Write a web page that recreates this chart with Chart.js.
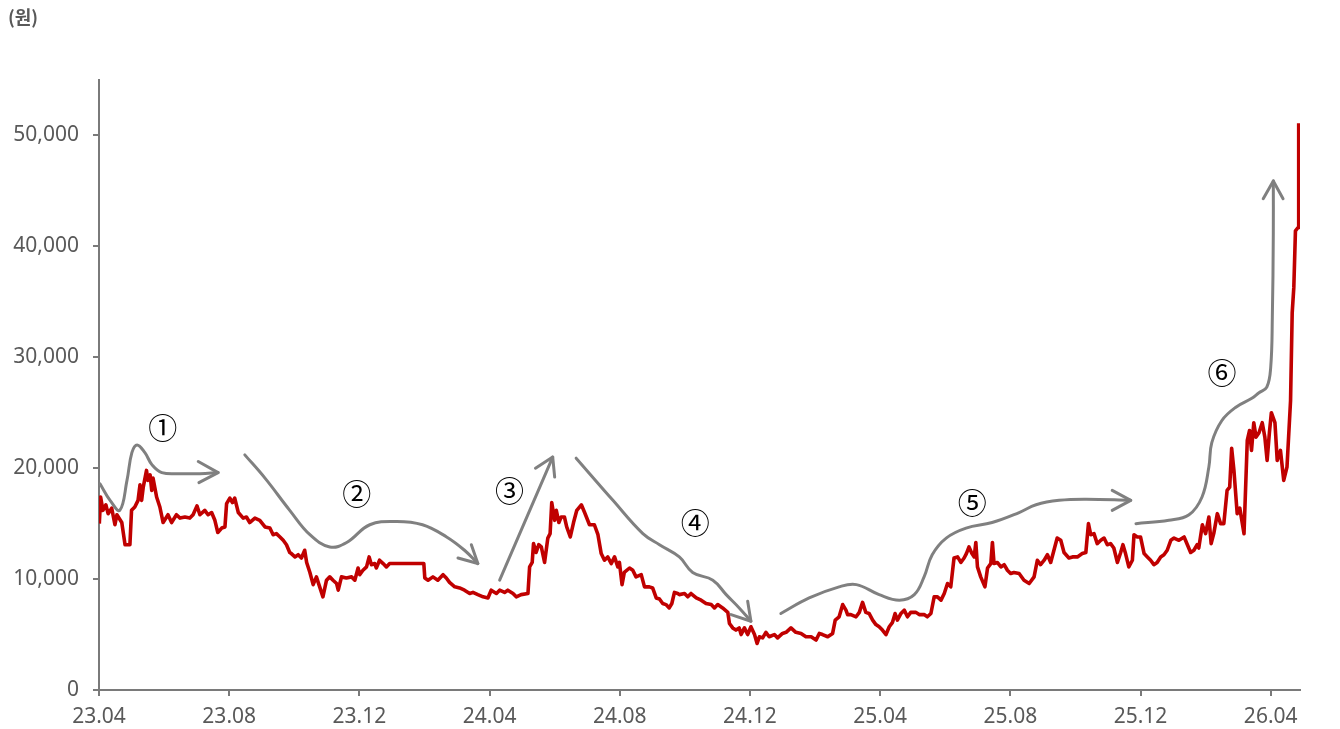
<!DOCTYPE html>
<html>
<head>
<meta charset="utf-8">
<script src="https://cdn.jsdelivr.net/npm/chart.js@4.4.1/dist/chart.umd.min.js"></script>
<style>
  html, body { margin: 0; padding: 0; background: #fff; }
  #wrap { width: 1340px; height: 729px; position: relative; }
</style>
</head>
<body>
<div id="wrap"><canvas id="grafico"></canvas></div>
<script>
// x = months since 2023.04, y = price (원)
const unitLabel = '(원)';
const tickMonths = [0, 4, 8, 12, 16, 20, 24, 28, 32, 36];
const tickLabels = ['23.04', '23.08', '23.12', '24.04', '24.08', '24.12', '25.04', '25.08', '25.12', '26.04'];
const yTicks = [0, 10000, 20000, 30000, 40000, 50000];

const price2023 = [[0.01,15000],[0.05,17400],[0.12,16200],[0.21,16700],[0.28,15900],[0.39,16400],[0.49,14900],[0.55,15800],[0.70,15100],[0.80,13100],[0.95,13100],[1.00,16200],[1.10,16500],[1.20,17100],[1.26,18500],[1.31,17100],[1.36,18300],[1.46,19800],[1.50,18900],[1.57,19400],[1.62,18000],[1.66,19100],[1.77,17400],[1.87,16500],[1.97,15100],[2.12,15800],[2.23,15100],[2.38,15800],[2.49,15500],[2.64,15600],[2.79,15500],[2.89,15800],[3.01,16600],[3.10,15800],[3.25,16200],[3.35,15800],[3.46,16000],[3.56,15300],[3.65,14200],[3.77,14600],[3.87,14700],[3.92,16800],[4.02,17300],[4.10,16900],[4.17,17300],[4.28,16000],[4.43,15500],[4.53,15600],[4.63,15100],[4.79,15500],[4.94,15300],[5.10,14700],[5.25,14600],[5.35,14000],[5.45,14100],[5.56,13800],[5.66,13500],[5.76,13100],[5.86,12400],[5.91,12300],[6.02,12000],[6.12,12200],[6.22,11900],[6.32,12600],[6.38,11500],[6.48,10600],[6.58,9500],[6.68,10200],[6.78,9300],[6.88,8400],[6.99,9900],[7.09,10200],[7.19,9900],[7.30,9600],[7.35,9000],[7.45,10200],[7.60,10100],[7.76,10200],[7.86,9900],[7.96,11000],[8.01,10400],[8.11,10800],[8.22,11100],[8.30,12000],[8.37,11300],[8.47,11400],[8.52,11000],[8.62,11700],[8.73,11400],[8.83,11100],[8.93,11400]];
const price2024 = [[9.44,11400],[9.98,11400],[10.01,10100],[10.11,9900],[10.26,10200],[10.41,9900],[10.57,10400],[10.67,10100],[10.77,9700],[10.93,9300],[11.08,9200],[11.23,9000],[11.39,8700],[11.49,8800],[11.64,8600],[11.80,8400],[11.95,8300],[12.05,9000],[12.21,8700],[12.31,9000],[12.46,8800],[12.56,9000],[12.72,8700],[12.82,8400],[12.97,8600],[13.18,8700],[13.23,11100],[13.31,11500],[13.35,13200],[13.43,12400],[13.51,13100],[13.59,12900],[13.69,11500],[13.79,13700],[13.86,14100],[13.91,16900],[14.00,15300],[14.05,16200],[14.13,15100],[14.20,15600],[14.30,15600],[14.37,14700],[14.48,13800],[14.58,15100],[14.68,16200],[14.82,16700],[14.92,16000],[15.07,14900],[15.22,14900],[15.33,14000],[15.43,12300],[15.53,11700],[15.63,12000],[15.74,11400],[15.84,12000],[15.94,11100],[15.99,11500],[16.07,9500],[16.14,10600],[16.30,11000],[16.40,10800],[16.50,10200],[16.66,10400],[16.76,9300],[16.91,9300],[17.01,9200],[17.12,8300],[17.22,8200],[17.32,7800],[17.42,7700],[17.52,7400],[17.60,7800],[17.68,8800],[17.78,8700],[17.83,8600],[17.99,8700],[18.09,8400],[18.19,8700],[18.35,8300],[18.50,8100],[18.65,7800],[18.81,7700],[18.91,7400],[19.01,7700],[19.16,7400],[19.32,7000],[19.37,6000],[19.47,5600],[19.57,5400],[19.67,5600],[19.73,5000],[19.83,5600],[19.93,5000],[20.03,5700],[20.14,5000],[20.22,4200],[20.29,4800],[20.39,4700],[20.49,5200],[20.59,4800],[20.75,5000],[20.85,4700]];
const price2025 = [[21.00,5100],[21.11,5200],[21.26,5600],[21.41,5200],[21.57,5100],[21.72,4800],[21.88,4800],[22.03,4500],[22.13,5100],[22.23,5000],[22.39,4800],[22.54,5100],[22.62,6300],[22.74,6600],[22.85,7700],[22.95,7200],[23.00,6800],[23.10,6800],[23.26,6600],[23.36,7000],[23.46,7900],[23.56,7000],[23.66,6900],[23.77,6300],[23.87,5900],[23.97,5700],[24.07,5400],[24.18,5000],[24.28,5700],[24.38,6100],[24.46,6900],[24.53,6300],[24.64,6900],[24.74,7200],[24.84,6600],[24.94,7000],[25.10,7000],[25.20,6800],[25.35,6800],[25.45,6600],[25.56,6900],[25.66,8400],[25.76,8400],[25.87,8100],[25.97,8700],[26.07,9600],[26.17,9300],[26.27,11900],[26.38,12000],[26.48,11500],[26.58,11900],[26.65,12300],[26.73,12900],[26.82,12300],[26.89,12000],[26.94,13300],[26.99,11100],[27.09,10200],[27.22,9300],[27.30,11000],[27.40,11400],[27.45,13300],[27.50,11400],[27.60,11500],[27.71,11100],[27.81,11300],[27.91,10800],[28.01,10500],[28.11,10600],[28.27,10500],[28.42,9900],[28.58,9600],[28.73,10200],[28.83,11700],[28.93,11300],[29.04,11700],[29.14,12200],[29.24,11500],[29.34,12600],[29.44,13700],[29.55,13500],[29.65,12400],[29.80,11900],[29.91,12000],[30.06,12000],[30.21,12300],[30.32,12400],[30.40,15000],[30.47,14000],[30.57,14100],[30.67,13200],[30.78,13500],[30.88,13700],[30.98,13100],[31.08,13200],[31.18,12800],[31.29,11500],[31.39,12400],[31.46,13100],[31.54,12300],[31.64,11100],[31.75,11700],[31.80,14000],[31.90,13800],[32.00,13800],[32.11,12300],[32.21,12000],[32.31,11700],[32.41,11300],[32.51,11500],[32.62,12000],[32.72,12200],[32.82,12600]];
const price2026 = [[32.93,13500],[33.03,13700],[33.18,13500],[33.34,13800],[33.44,13100],[33.54,12400],[33.64,12600],[33.74,13100],[33.79,12800],[33.90,14900],[34.00,14100],[34.10,15600],[34.17,13200],[34.25,14100],[34.36,15900],[34.46,15000],[34.56,15000],[34.66,18000],[34.74,18300],[34.80,21800],[34.87,19800],[34.97,15900],[35.05,16400],[35.18,14100],[35.28,22500],[35.35,23400],[35.41,21600],[35.48,24100],[35.55,22800],[35.64,23200],[35.74,24100],[35.82,22800],[35.89,20700],[35.96,23200],[36.02,25000],[36.13,24100],[36.20,20700],[36.30,21600],[36.40,18900],[36.50,20100],[36.61,26100],[36.66,34000],[36.71,36300],[36.76,41400],[36.84,41700],[36.86,51100]];

// 추세 화살표 (곡선 + 화살촉)
const trend1 = [[0.03,18600],[0.34,17100],[0.64,16200],[0.86,18900],[1.01,21400],[1.17,22100],[1.41,21400],[1.63,20300],[1.93,19600],[2.49,19500],[3.10,19500],[3.66,19600]];
const head1 = [[3.05,20600],[3.66,19600],[3.07,18700]];
const trend2 = [[4.48,21200],[5.10,19100],[5.86,16200],[6.48,14000],[7.09,12900],[7.61,13300],[8.32,14900],[9.15,15200],[9.94,14900],[10.68,13800],[11.23,12600],[11.64,11400]];
const head2 = [[11.03,11900],[11.64,11400],[11.44,13100]];
const trend3 = [[12.31,9900],[13.94,21000]];
const head3 = [[13.41,20000],[13.94,21000],[14.00,19200]];
const trend4 = [[14.66,20900],[15.79,17100],[16.71,14100],[17.22,13100],[17.83,12000],[18.24,10600],[18.86,9900],[19.27,8600],[19.67,7400],[20.03,6200]];
const head4 = [[19.42,6800],[20.03,6200],[19.93,8000]];
const trend5 = [[20.95,6900],[21.82,8300],[22.74,9300],[23.27,9500],[23.97,8600],[24.59,8100],[25.05,8600],[25.35,10200],[25.60,12200],[26.03,13700],[26.64,14600],[27.44,15100],[28.27,16000],[28.79,16700],[29.50,17100],[30.33,17200],[31.70,17100]];
const head5 = [[31.13,18000],[31.70,17100],[31.13,16200]];
const trend6 = [[31.86,15000],[32.87,15300],[33.49,15800],[33.89,17400],[34.10,20100],[34.19,22300],[34.50,24300],[34.93,25500],[35.42,26300],[35.64,26800],[35.88,27300],[36.00,29100],[36.05,33600],[36.08,41200],[36.08,45900]];
const head6 = [[35.77,44300],[36.08,45900],[36.38,44300]];

const stepLabels = [['①',1.96,23600],['②',7.92,17700],['③',12.61,17900],['④',18.32,15100],['⑤',26.83,16900],['⑥',34.50,28600]];

const toPts = arr => arr.map(p => ({ x: p[0], y: p[1] }));
const gris = '#808080';
const ejeColor = '#7a7a7a';
const textoColor = '#595959';

function lineaGris(arr, curva) {
    return {
        data: toPts(arr),
        borderColor: gris,
        borderWidth: 3,
        pointRadius: 0,
        tension: curva ? 0.4 : 0,
        borderCapStyle: 'round',
        borderJoinStyle: 'round',
        fill: false
    };
}

const etiquetas = {
    id: 'etiquetas',
    afterDatasetsDraw(chart) {
        const { ctx, scales: { x, y } } = chart;
        ctx.save();
        ctx.fillStyle = '#000';
        ctx.font = '29px "Noto Sans CJK KR"';
        ctx.textAlign = 'center';
        ctx.textBaseline = 'middle';
        stepLabels.forEach(([t, m, v]) => {
            ctx.fillText(t, x.getPixelForValue(m), y.getPixelForValue(v));
        });
        ctx.fillStyle = textoColor;
        ctx.font = 'bold 18px "Noto Sans CJK KR"';
        ctx.textAlign = 'left';
        ctx.textBaseline = 'top';
        ctx.fillText(unitLabel, 8, 8);
        ctx.restore();
    }
};

const ctx = document.getElementById('grafico').getContext('2d');
const grafico = new Chart(ctx, {
    type: 'line',
    data: {
        datasets: [
            lineaGris(trend1, true), lineaGris(head1, false),
            lineaGris(trend2, true), lineaGris(head2, false),
            lineaGris(trend3, false), lineaGris(head3, false),
            lineaGris(trend4, true), lineaGris(head4, false),
            lineaGris(trend5, true), lineaGris(head5, false),
            lineaGris(trend6, true), lineaGris(head6, false),
            {
                data: toPts([].concat(price2023, price2024, price2025, price2026)),
                borderColor: '#c00000',
                borderWidth: 3.6,
                pointRadius: 0,
                tension: 0,
                borderJoinStyle: 'round',
                fill: false
            }
        ]
    },
    options: {
        responsive: true,
        maintainAspectRatio: false,
        animation: false,
        devicePixelRatio: 1,
        layout: { padding: { top: 80, right: 40, left: 0, bottom: 0 } },
        plugins: {
            legend: { display: false },
            tooltip: { enabled: false }
        },
        scales: {
            x: {
                type: 'linear',
                min: 0,
                max: 36.9,
                afterFit: s => { s.height = 39; },
                afterBuildTicks: axis => { axis.ticks = tickMonths.map(v => ({ value: v })); },
                grid: { drawOnChartArea: false, drawTicks: true, tickLength: 6, color: ejeColor, lineWidth: 2 },
                border: { color: ejeColor, width: 2 },
                ticks: {
                    color: textoColor,
                    font: { family: '"Noto Sans"', size: 21 },
                    padding: 8,
                    maxRotation: 0,
                    autoSkip: false,
                    callback: v => tickLabels[tickMonths.indexOf(v)]
                }
            },
            y: {
                min: 0,
                max: 55000,
                afterFit: s => { s.width = 99; },
                afterBuildTicks: axis => { axis.ticks = yTicks.map(v => ({ value: v })); },
                grid: { drawOnChartArea: false, drawTicks: true, tickLength: 6, color: ejeColor, lineWidth: 2 },
                border: { color: ejeColor, width: 2 },
                ticks: {
                    color: textoColor,
                    font: { family: '"Noto Sans"', size: 21 },
                    padding: 14,
                    callback: v => v.toLocaleString('en-US')
                }
            }
        }
    },
    plugins: [etiquetas]
});
</script>
</body>
</html>
